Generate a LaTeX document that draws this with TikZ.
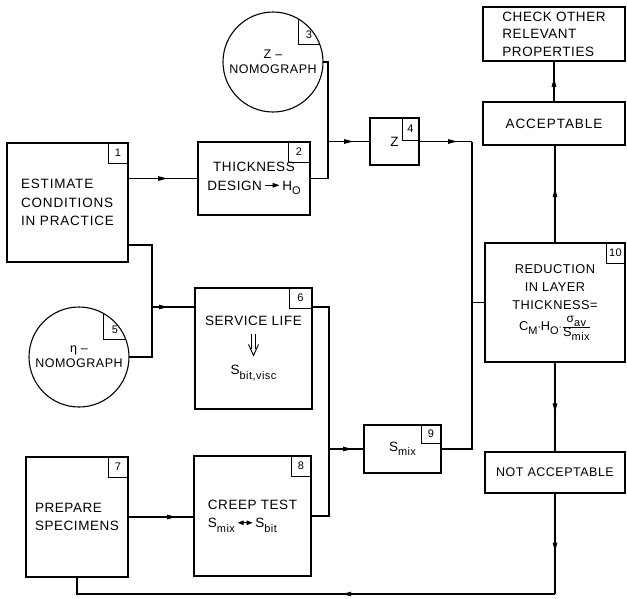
\documentclass[tikz,border=0pt]{standalone}
\usepackage{fontspec}
\setmainfont{Liberation Sans}[LetterSpace=4]
\usetikzlibrary{arrows.meta,decorations.markings,calc}
\newcommand\lsub[1]{\raisebox{-0.6ex}{\fontsize{11}{11}\selectfont #1}}
\newcommand\rarr{\tikz[baseline=-0.7ex]\draw[line width=0.9pt,-{Triangle[length=7pt,width=4.5pt]}] (0pt,0pt)--(15pt,0pt);}
\newcommand\darr{\tikz[baseline=-0.7ex]\draw[line width=0.9pt,{Triangle[length=6pt,width=4.5pt]}-{Triangle[length=6pt,width=4.5pt]}] (0pt,0pt)--(15pt,0pt);}
\newcommand\ddarr{\tikz[baseline=-19pt]{\draw[line width=0.9pt] (-1.8pt,0pt)--(-1.8pt,-15pt) (1.8pt,0pt)--(1.8pt,-15pt); \draw[line width=0.9pt, line join=miter] (-5pt,-10pt)--(0pt,-21pt)--(5pt,-10pt);}}
\begin{document}
\begin{tikzpicture}[x=1pt,y=-1pt,
  every node/.style={font=\fontsize{13.5}{18.5}\selectfont},
  box/.style={draw, line width=1.1pt, inner sep=0pt, outer sep=0pt},
  circ/.style={draw, circle, line width=1.1pt, minimum size=100pt, inner sep=0pt, outer sep=0pt, align=center, font=\fontsize{12.5}{15}\selectfont},
  numbox/.style={draw, line width=1pt, minimum width=20pt, minimum height=20pt, inner sep=0pt, outer sep=0pt, anchor=north east, font=\fontsize{11}{11}\selectfont},
  numtxt/.style={inner sep=0pt, font=\fontsize{11}{11}\selectfont},
  conn/.style={line width=1.1pt},
  tipmark/.style={postaction={decorate}, decoration={markings, mark=at position #1 with {\arrow{Triangle[length=9pt,width=4.5pt]}}}},
]
\useasboundingbox[fill=white] (0,0) rectangle (627,598);

% boxes
\node[box, align=left, minimum width=121pt, minimum height=119pt, font=\fontsize{13.5}{18.5}\selectfont\addfontfeatures{LetterSpace=6}] (b1) at (67.5,202.5) {ESTIMATE\\CONDITIONS\\IN PRACTICE};
\node[box, align=center, minimum width=112pt, minimum height=73pt] (b2) at (254,178.5) {THICKNESS\\DESIGN\,\rarr\,H\lsub{O}};
\node[circ] (c3) at (273,62) {Z --\\NOMOGRAPH};
\node[box, minimum width=49pt, minimum height=47pt] (b4) at (394.5,141.5) {Z};
\node[circ] (c5) at (79,357) {η --\\NOMOGRAPH};
\node[box, align=center, minimum width=117pt, minimum height=121pt] (b6) at (253.5,348.5) {SERVICE LIFE\\[7pt]\ddarr\\[3pt]S\lsub{bit,visc}};
\node[box, align=left, minimum width=102pt, minimum height=120pt] (b7) at (77,517) {PREPARE\\SPECIMENS};
\node[box, align=left, minimum width=117pt, minimum height=120pt] (b8) at (252.5,516) {CREEP TEST\\S\lsub{mix}\,\darr\,S\lsub{bit}};
\node[box, minimum width=77pt, minimum height=48pt] (b9) at (402.5,449) {S\lsub{mix}};
\node[box, align=center, minimum width=140pt, minimum height=119pt, font=\fontsize{12.8}{18}\selectfont] (b10) at (555,302.5) {REDUCTION\\IN LAYER\\THICKNESS=\\[3pt]C\lsub{M}$\cdot$H\lsub{O}$\cdot\frac{\mbox{\fontsize{12}{12}\selectfont σ\lsub{av}}}{\mbox{\fontsize{12.8}{13}\selectfont S\lsub{mix}}}$};
\node[box, align=left, minimum width=142pt, minimum height=54pt, font=\fontsize{13.5}{17.5}\selectfont] (chk) at (554,34) {CHECK OTHER\\RELEVANT\\PROPERTIES};
\node[box, minimum width=142pt, minimum height=43pt, font=\fontsize{13.5}{17.5}\selectfont\addfontfeatures{LetterSpace=7}] (acc) at (554,123.5) {ACCEPTABLE};
\node[box, minimum width=140pt, minimum height=41pt, font=\fontsize{12.5}{16}\selectfont] (nacc) at (555,472.5) {NOT ACCEPTABLE};

% number boxes
\node[numbox] (n1) at (b1.north east) {1};
\node[numbox, minimum width=22pt] (n2) at (b2.north east) {2};
\node[numbox, minimum width=17pt, minimum height=22pt] (n4) at (b4.north east) {4};
\node[numbox, minimum width=23pt] (n6) at (b6.north east) {6};
\node[numbox] (n7) at (b7.north east) {7};
\node[numbox] (n8) at (b8.north east) {8};
\node[numbox, minimum height=18pt] (n9) at (b9.north east) {9};
\node[numbox, minimum width=19pt] (n10) at (b10.north east) {10};
\draw[line width=1pt] (c3.60) |- (c3.20);
\node[numtxt] (n3) at ($(c3.60 |- c3.20)+(11,-10)$) {3};
\draw[line width=1pt] (c5.60) |- (c5.20);
\node[numtxt] (n5) at ($(c5.60 |- c5.20)+(11,-10)$) {5};

% junction points
\path (b4.west) ++(-42,0) coordinate (j1);
\path (b4.east) ++(53,0) coordinate (j2);
\path (b1.east) ++(24,42.5) coordinate (j5);
\path (j5) ++(0,62) coordinate (j6);
\path (b6.east) ++(17,-41.5) coordinate (j8);
\path (nacc.south) ++(0,101) coordinate (j11);

% connectors
\draw[conn] (c3.east) -| (j1);
\draw[conn] (b2.east) -| (j1);
\draw[conn, tipmark=0.6] (j1) -- (b4.west);
\draw[conn, tipmark=0.72] (b4.east) -- (j2);
\draw[conn] (j2) -- (j2 |- b9.east) -- (b9.east);
\draw[conn] (j2 |- b10.west) -- (b10.west);
\draw[conn, tipmark=0.56] (b1.east |- b2.west) -- (b2.west);
\draw[conn] (b1.east |- j5) -- (j5) |- (c5.east);
\draw[conn, tipmark=0.37] (j6) -- (j6 -| b6.west);
\draw[conn] (j8 -| b6.east) -- (j8) -- (j8 |- b8.east) -- (b8.east);
\draw[conn, tipmark=0.66] (j8 |- b9.west) -- (b9.west);
\draw[conn, tipmark=0.73] (b7.east) -- (b7.east -| b8.west);
\draw[conn, tipmark=0.56] (b10.north) -- (b10.north |- acc.south);
\draw[conn, tipmark=0.59] (acc.north) -- (acc.north |- chk.south);
\draw[conn, tipmark=0.56] (b10.south) -- (b10.south |- nacc.north);
\draw[conn, tipmark=0.58] (nacc.south) -- (j11);
\draw[conn, tipmark=0.43] (j11) -- (j11 -| b7.south) -- (b7.south);
\end{tikzpicture}
\end{document}
